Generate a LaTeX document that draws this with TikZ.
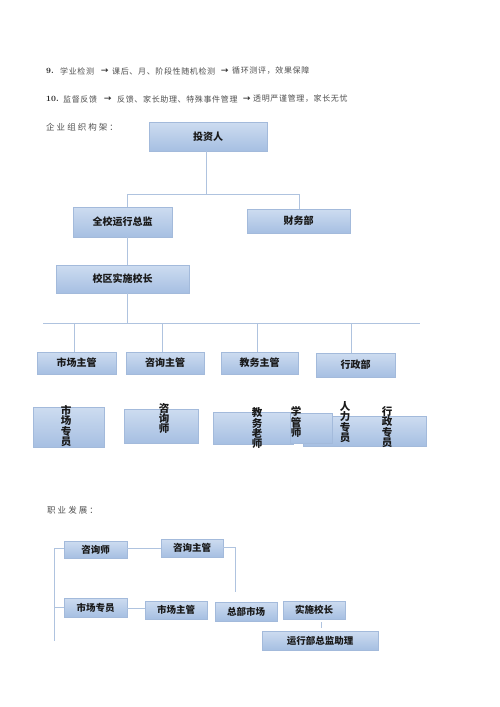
\documentclass[tikz,border=0pt]{standalone}
\usepackage{fontspec}
\newfontfamily\cjk{Noto Sans CJK SC}
\newfontfamily\cjkt[LetterSpace=8]{Noto Sans CJK SC}
\newfontfamily\cjkh[LetterSpace=24]{Noto Sans CJK SC}
\definecolor{boxtop}{HTML}{CDDCF0}
\definecolor{boxbot}{HTML}{A6BFE2}
\definecolor{boxline}{HTML}{A3BADB}
\definecolor{connc}{HTML}{AFC3DF}
\definecolor{txtgray}{HTML}{505050}
\tikzset{
  box/.style={draw=boxline, line width=0.6pt, top color=boxtop, bottom color=boxbot,
    inner sep=0pt, font=\cjk\bfseries\fontsize{10}{12}\selectfont, text=black!90},
  cbox/.style={box, font=\cjk\bfseries\fontsize{9.5}{11}\selectfont},
  vtext/.style={inner sep=0pt, align=center, font=\cjk\bfseries\fontsize{10.5}{10}\selectfont, text=black!90},
  conn/.style={draw=connc, line width=0.9pt},
  bodytxt/.style={anchor=west, inner sep=0pt, text=txtgray, font=\cjkt\fontsize{8}{9}\selectfont},
  numtxt/.style={anchor=west, inner sep=0pt, text=black!85, font=\bfseries\fontsize{8}{9}\selectfont},
  arrtxt/.style={anchor=west, inner sep=0pt, text=black!80, font=\cjk\bfseries\fontsize{7.5}{9}\selectfont},
  headtxt/.style={anchor=west, inner sep=0pt, text=txtgray, font=\cjkh\fontsize{8.5}{10}\selectfont},
}
\begin{document}
\begin{tikzpicture}[x=1pt,y=-1pt]
\useasboundingbox[fill=white] (0,0) rectangle (500,707);

% ---- text lines
\node[numtxt]  (t9a) at (46,71) {9.};
\node[bodytxt] (t9b) at (60,71) {学业检测};
\node[arrtxt]  (t9c) at (101,71) {→};
\node[bodytxt] (t9d) at (112,71) {课后、月、阶段性随机检测};
\node[arrtxt]  (t9e) at (221,71) {→};
\node[bodytxt] (t9f) at (232,71) {循环测评，效果保障};

\node[numtxt]  (t10a) at (46,99) {10.};
\node[bodytxt] (t10b) at (63,99) {监督反馈};
\node[arrtxt]  (t10c) at (104,99) {→};
\node[bodytxt] (t10d) at (117,99) {反馈、家长助理、特殊事件管理};
\node[arrtxt]  (t10e) at (243,99) {→};
\node[bodytxt] (t10f) at (253,99) {透明严谨管理，家长无忧};

\node[headtxt] (h1) at (46,127) {企业组织构架：};

% ---- org chart
\node[box, minimum width=118pt, minimum height=29pt] (inv) at (208,136.5) {投资人};
\node[box, minimum width=99pt, minimum height=30pt] (qx) at (122.5,222) {全校运行总监};
\node[box, minimum width=103pt, minimum height=24pt] (cw) at (298.5,221) {财务部};
\node[box, minimum width=133pt, minimum height=28pt] (xq) at (122.5,279) {校区实施校长};
\node[box, minimum width=79pt, minimum height=22pt] (sc1) at (76.5,363) {市场主管};
\node[box, minimum width=78pt, minimum height=22pt] (zx1) at (165,363) {咨询主管};
\node[box, minimum width=77pt, minimum height=22pt] (jw1) at (259.5,363) {教务主管};
\node[box, minimum width=79pt, minimum height=24pt] (xz1) at (355.5,365) {行政部};

\coordinate (j1) at (206,194);
\coordinate (j1l) at (127,194);
\coordinate (j1r) at (299,194);
\coordinate (j2) at (127,323);
\coordinate (j2l) at (43,323);
\coordinate (j2r) at (420,323);

\draw[conn] (inv.south -| j1) -- (j1);
\draw[conn] (j1l) -- (j1r);
\draw[conn] (j1l) -- (j1l |- qx.north);
\draw[conn] (j1r) -- (j1r |- cw.north);
\draw[conn] (qx.south -| j1l) -- (xq.north -| j1l);
\draw[conn] (xq.south -| j2) -- (j2);
\draw[conn] (j2l) -- (j2r);
\draw[conn] (74,323) -- (74,323 |- sc1.north);
\draw[conn] (162,323) -- (162,323 |- zx1.north);
\draw[conn] (257,323) -- (257,323 |- jw1.north);
\draw[conn] (351,323) -- (351,323 |- xz1.north);

% ---- staff boxes with vertical text
\node[box, minimum width=71pt, minimum height=40pt] (b1) at (68.5,427) {};
\node[box, minimum width=74pt, minimum height=34pt] (b2) at (161,426) {};
\node[box, minimum width=80pt, minimum height=32pt] (b3) at (253,428) {};
\node[box, minimum width=123pt, minimum height=30pt] (b5) at (364.5,431) {};
\node[box, minimum width=42pt, minimum height=30pt] (b4) at (311,428) {};
\node[vtext] (v1) at (66,426) {市\\场\\专\\员};
\node[vtext] (v2) at (164,418.5) {咨\\询\\师};
\node[vtext] (v3) at (257,428) {教\\务\\老\\师};
\node[vtext] (v4) at (296,422) {学\\管\\师};
\node[vtext] (v5) at (345,422) {人\\力\\专\\员};
\node[vtext] (v6) at (387,427) {行\\政\\专\\员};

% ---- career
\node[headtxt] (h2) at (47,510) {职业发展：};
\node[cbox, minimum width=63pt, minimum height=17pt] (c1) at (95.5,549.5) {咨询师};
\node[cbox, minimum width=62pt, minimum height=18pt] (c2) at (192,548) {咨询主管};
\node[cbox, minimum width=63pt, minimum height=19pt] (c3) at (95.5,607.5) {市场专员};
\node[cbox, minimum width=62pt, minimum height=18pt] (c4) at (176,610) {市场主管};
\node[cbox, minimum width=62pt, minimum height=19pt] (c5) at (246,611.5) {总部市场};
\node[cbox, minimum width=62pt, minimum height=18pt] (c6) at (314,610) {实施校长};
\node[cbox, minimum width=116pt, minimum height=19pt] (c7) at (320,640.5) {运行部总监助理};

\coordinate (k1) at (54,548);
\coordinate (k2) at (54,607);
\coordinate (k3) at (54,641);
\coordinate (k4) at (235,547);
\coordinate (k5) at (235,592);
\coordinate (k6) at (321,628);

\draw[conn] (k1 -| c1.west) -- (k1) -- (k3);
\draw[conn] (k2) -- (k2 -| c3.west);
\draw[conn] (c1.east |- 0,548) -- (c2.west |- 0,548);
\draw[conn] (c3.east |- 0,608) -- (c4.west |- 0,608);
\draw[conn] (c2.east |- k4) -- (k4) -- (k5);
\draw[conn] (c6.south -| k6) ++(0,3) -- (k6);
\end{tikzpicture}
\end{document}
